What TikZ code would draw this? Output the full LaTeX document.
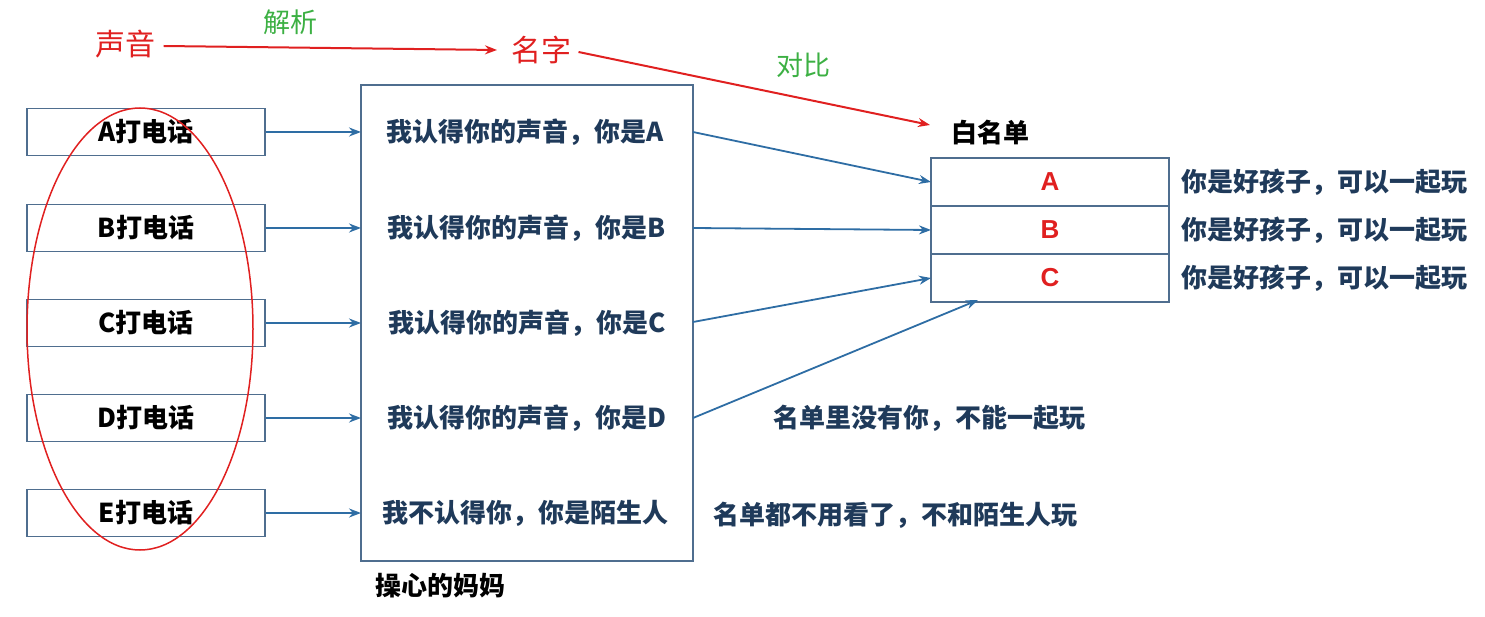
\documentclass[tikz,border=0pt]{standalone}
\usepackage{fontspec}
\setmainfont{Liberation Sans}
\newfontfamily\cjk{Noto Sans CJK SC}
\usetikzlibrary{arrows.meta}
\definecolor{bl}{HTML}{2E6DA4}
\definecolor{bx}{HTML}{4F6E8F}
\definecolor{tx}{HTML}{1F3A5A}
\definecolor{rd}{HTML}{E02020}
\definecolor{gr}{HTML}{3CB043}
\tikzset{
 box/.style={draw=bx,line width=1.6pt,minimum width=238pt,minimum height=47pt,inner sep=0pt,font=\fontsize{26}{28}\selectfont\bfseries\cjk},
 cell/.style={draw=bx,line width=1.6pt,minimum width=238pt,minimum height=48pt,inner sep=0pt,text=rd,font=\fontsize{26}{28}\selectfont\bfseries},
 mt/.style={text=tx,font=\fontsize{26}{28}\selectfont\bfseries\cjk,inner sep=0pt},
 barr/.style={bl,line width=1.8pt,-{Stealth[length=12pt,width=9pt]}},
 rarr/.style={rd,line width=2pt,-{Stealth[length=12pt,width=9pt]}},
}
\begin{document}
\begin{tikzpicture}[x=1pt,y=-1pt]
\useasboundingbox (0,0) rectangle (1485,617);
\node[box] (a) at (146,132) {A打电话};
\node[box] (b) at (146,228) {B打电话};
\node[box] (c) at (146,323) {C打电话};
\node[box] (d) at (146,418) {D打电话};
\node[box] (e) at (146,513) {E打电话};
\draw[rd,line width=1.5pt] (140,329) ellipse [x radius=113, y radius=221];
\node[draw=bx,line width=1.6pt,minimum width=332pt,minimum height=476pt] (m) at (527,323) {};
\node[mt] (ma) at (525,132) {我认得你的声音，你是A};
\node[mt] (mb) at (527,228) {我认得你的声音，你是B};
\node[mt] (mc) at (527,323) {我认得你的声音，你是C};
\node[mt] (md) at (527,418) {我认得你的声音，你是D};
\node[mt] (me) at (525,513) {我不认得你，你是陌生人};
\coordinate (pa) at (361,132); \coordinate (pb) at (361,228); \coordinate (pc) at (361,323); \coordinate (pd) at (361,418); \coordinate (pe) at (361,513);
\foreach \s/\t in {a/pa,b/pb,c/pc,d/pd,e/pe} \draw[barr] (\s.east) -- (\t);
\node[cell] (ta) at (1050,182) {A};
\node[cell] (tb) at (1050,230) {B};
\node[cell] (tc) at (1050,278) {C};
\coordinate (ra) at (693,132); \coordinate (rb) at (693,228); \coordinate (rc) at (693,322); \coordinate (rd0) at (693,418);
\coordinate (tta) at (931,182); \coordinate (ttb) at (931,230); \coordinate (ttc) at (931,278); \coordinate (ttd) at (978,300);
\draw[barr] (ra) -- (tta); \draw[barr] (rb) -- (ttb); \draw[barr] (rc) -- (ttc); \draw[barr] (rd0) -- (ttd);
\foreach \y/\n in {182/x1,230/x2,278/x3} \node[mt] (\n) at (1324,\y) {你是好孩子，可以一起玩};
\node[mt] (n1) at (929,418) {名单里没有你，不能一起玩};
\node[mt] (n2) at (895,515) {名单都不用看了，不和陌生人玩};
\node[mt,text=black] (wl) at (990,133) {白名单};
\node[mt,text=black] (mm) at (440,586) {操心的妈妈};
\node[text=rd,font=\fontsize{30}{32}\selectfont\cjk] (sy) at (125,44) {声音};
\node[text=rd,font=\fontsize{30}{32}\selectfont\cjk] (mz) at (541,50) {名字};
\draw[rarr] (sy.east) ++(5,2) -- (497,50);
\draw[rarr] (mz.east) ++(4,2) -- (930,125);
\node[text=gr,font=\fontsize{27}{29}\selectfont\cjk] (jx) at (290,22) {解析};
\node[text=gr,font=\fontsize{27}{29}\selectfont\cjk] (db) at (803,65) {对比};
\end{tikzpicture}
\end{document}
